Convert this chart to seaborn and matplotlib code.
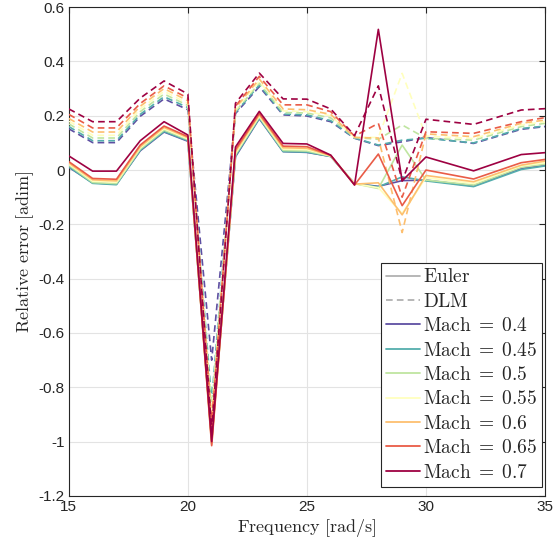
import numpy as np
import pandas as pd
import matplotlib
matplotlib.use("Agg")
import matplotlib.pyplot as plt
from matplotlib.lines import Line2D
import seaborn as sns

freq = [15, 16, 17, 18, 19, 20, 21, 22, 23, 24, 25, 26, 27, 28, 29, 30, 32, 34, 35]
machs = ["0.4", "0.45", "0.5", "0.55", "0.6", "0.65", "0.7"]

euler_04 = [0.010, -0.047, -0.052, 0.071, 0.140, 0.106, -0.990, 0.049, 0.189, 0.068, 0.065, 0.050, -0.050, -0.060, -0.039, -0.037, -0.059, 0.006, 0.017]
euler_045 = [0.012, -0.049, -0.054, 0.073, 0.142, 0.108, -0.995, 0.052, 0.191, 0.068, 0.066, 0.050, -0.050, -0.062, -0.025, -0.040, -0.061, 0.002, 0.015]
euler_05 = [0.018, -0.046, -0.050, 0.077, 0.147, 0.112, -1.000, 0.057, 0.195, 0.072, 0.070, 0.051, -0.050, -0.068, 0.092, -0.037, -0.055, 0.010, 0.022]
euler_055 = [0.022, -0.041, -0.045, 0.082, 0.152, 0.115, -1.005, 0.062, 0.199, 0.077, 0.075, 0.052, -0.050, -0.065, -0.160, -0.028, -0.049, 0.015, 0.027]
euler_06 = [0.026, -0.036, -0.040, 0.086, 0.157, 0.119, -1.010, 0.068, 0.203, 0.082, 0.080, 0.053, -0.052, -0.047, -0.165, -0.020, -0.043, 0.018, 0.033]
euler_065 = [0.031, -0.031, -0.034, 0.092, 0.162, 0.123, -1.015, 0.075, 0.208, 0.088, 0.086, 0.054, -0.055, 0.059, -0.131, 0.000, -0.033, 0.027, 0.039]
euler_07 = [0.052, -0.004, -0.004, 0.108, 0.178, 0.129, -1.000, 0.085, 0.216, 0.098, 0.096, 0.055, -0.055, 0.518, -0.040, 0.048, -0.003, 0.057, 0.064]

dlm_04 = [0.152, 0.101, 0.101, 0.198, 0.262, 0.222, -0.700, 0.208, 0.307, 0.203, 0.199, 0.178, 0.117, 0.090, 0.104, 0.120, 0.098, 0.150, 0.160]
dlm_045 = [0.160, 0.108, 0.108, 0.205, 0.270, 0.230, -0.850, 0.212, 0.313, 0.206, 0.203, 0.182, 0.118, 0.092, 0.110, 0.117, 0.100, 0.153, 0.162]
dlm_05 = [0.170, 0.118, 0.118, 0.215, 0.280, 0.238, -0.880, 0.216, 0.320, 0.212, 0.210, 0.192, 0.120, 0.113, 0.166, 0.117, 0.110, 0.160, 0.172]
dlm_055 = [0.180, 0.128, 0.128, 0.225, 0.290, 0.245, -0.900, 0.222, 0.327, 0.218, 0.215, 0.200, 0.120, 0.120, 0.356, 0.125, 0.116, 0.166, 0.178]
dlm_06 = [0.190, 0.140, 0.140, 0.235, 0.300, 0.255, -0.920, 0.228, 0.335, 0.225, 0.222, 0.205, 0.120, 0.118, -0.230, 0.133, 0.123, 0.172, 0.184]
dlm_065 = [0.205, 0.155, 0.155, 0.245, 0.310, 0.265, -0.940, 0.235, 0.345, 0.240, 0.240, 0.215, 0.125, 0.172, -0.100, 0.141, 0.135, 0.178, 0.193]
dlm_07 = [0.225, 0.178, 0.178, 0.265, 0.328, 0.280, -0.960, 0.246, 0.357, 0.262, 0.261, 0.225, 0.127, 0.310, -0.040, 0.187, 0.168, 0.221, 0.226]

euler = [euler_04, euler_045, euler_05, euler_055, euler_06, euler_065, euler_07]
dlm = [dlm_04, dlm_045, dlm_05, dlm_055, dlm_06, dlm_065, dlm_07]

yticks = [-1.2, -1.0, -0.8, -0.6, -0.4, -0.2, 0.0, 0.2, 0.4, 0.6]
ytick_labels = ["-1.2", "-1", "-0.8", "-0.6", "-0.4", "-0.2", "0", "0.2", "0.4", "0.6"]
xticks = [15, 20, 25, 30, 35]

rows = []
for m, e, d in zip(machs, euler, dlm):
    for f, ve, vd in zip(freq, e, d):
        rows.append((f, ve, m, "Euler"))
        rows.append((f, vd, m, "DLM"))
df = pd.DataFrame(rows, columns=["freq", "err", "Mach", "Method"])

sns.set_style("white")
plt.rcParams["font.family"] = ["Liberation Sans", "DejaVu Sans"]
plt.rcParams["mathtext.fontset"] = "cm"

cmap = matplotlib.colormaps["Spectral"]
cols = [cmap(v) for v in np.linspace(0, 1, 7)][::-1]
palette = dict(zip(machs, cols))

fig = plt.figure(figsize=(5.55, 5.45), dpi=100)
ax = fig.add_axes([0.124, 0.09, 0.858, 0.897])

sns.lineplot(data=df, x="freq", y="err", hue="Mach", style="Method",
             hue_order=machs, style_order=["Euler", "DLM"], palette=palette,
             dashes={"Euler": "", "DLM": (4, 2.5)}, linewidth=1.2,
             estimator=None, sort=False, legend=False, ax=ax, zorder=3)

ax.set_xlim(15, 35)
ax.set_ylim(-1.2, 0.6)
ax.set_xticks(xticks)
ax.set_xticklabels([str(t) for t in xticks])
ax.set_yticks(yticks)
ax.set_yticklabels(ytick_labels)
ax.grid(True, color="#e3e3e3", linewidth=0.8, zorder=0)
ax.set_axisbelow(True)
for s in ax.spines.values():
    s.set_color("#262626")
    s.set_linewidth(0.8)
ax.tick_params(direction="in", length=4, width=0.8, top=True, right=True,
               labelsize=11, colors="#262626", pad=3)
ax.set_xlabel(r"$\mathrm{Frequency\ [rad/s]}$", fontsize=13, color="#262626", labelpad=2)
ax.set_ylabel(r"$\mathrm{Relative\ error\ [adim]}$", fontsize=13, color="#262626", labelpad=2)

handles = [Line2D([], [], color="#aaaaaa", lw=1.2, ls="-"),
           Line2D([], [], color="#aaaaaa", lw=1.2, ls=(0, (4, 2.5)))]
labels = [r"$\mathrm{Euler}$", r"$\mathrm{DLM}$"]
for m in machs:
    handles.append(Line2D([], [], color=palette[m], lw=1.3))
    labels.append(r"$\mathrm{Mach}\;=\;" + m + "$")
leg = ax.legend(handles, labels, loc="lower right", bbox_to_anchor=(0.994, 0.018),
                fontsize=14, frameon=True, fancybox=False, framealpha=1,
                edgecolor="#262626", handlelength=1.75, handletextpad=0.12,
                labelspacing=0.33, borderpad=0.28, borderaxespad=0)
leg.get_frame().set_linewidth(0.8)

fig.savefig("out.png", dpi=100)
